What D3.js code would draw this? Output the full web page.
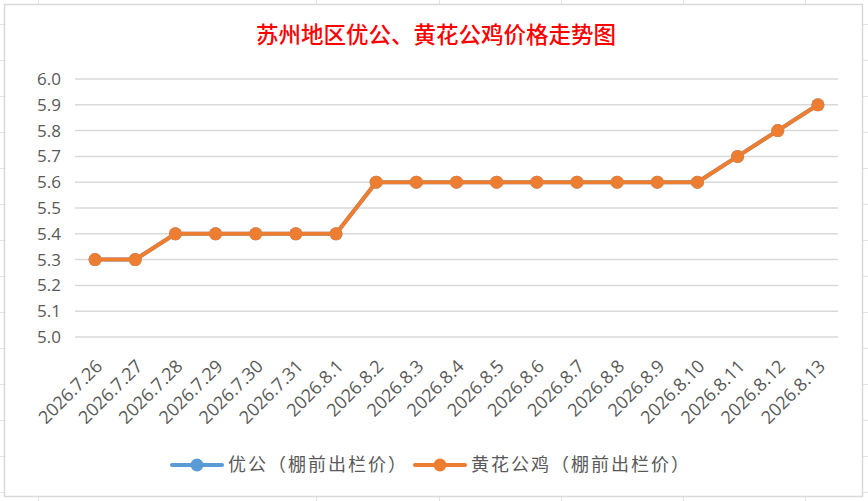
<!DOCTYPE html>
<html>
<head>
<meta charset="utf-8">
<script src="https://cdn.jsdelivr.net/npm/d3@7"></script>
<style>
  html, body { margin: 0; padding: 0; background: #fff; }
  svg { display: block; }
</style>
</head>
<body>
<svg id="chart" width="868" height="501"></svg>
<script>
// Chart data
const dates = ['2026.7.26', '2026.7.27', '2026.7.28', '2026.7.29', '2026.7.30', '2026.7.31',
  '2026.8.1', '2026.8.2', '2026.8.3', '2026.8.4', '2026.8.5', '2026.8.6', '2026.8.7',
  '2026.8.8', '2026.8.9', '2026.8.10', '2026.8.11', '2026.8.12', '2026.8.13'];
const youGong = [5.3, 5.3, 5.4, 5.4, 5.4, 5.4, 5.4, 5.6, 5.6, 5.6, 5.6, 5.6, 5.6, 5.6, 5.6, 5.6, 5.7, 5.8, 5.9];
const huangHua = [5.3, 5.3, 5.4, 5.4, 5.4, 5.4, 5.4, 5.6, 5.6, 5.6, 5.6, 5.6, 5.6, 5.6, 5.6, 5.6, 5.7, 5.8, 5.9];
const yTicks = [5.0, 5.1, 5.2, 5.3, 5.4, 5.5, 5.6, 5.7, 5.8, 5.9, 6.0];
const seriesNames = ['优公（棚前出栏价）', '黄花公鸡（棚前出栏价）'];
const title = '苏州地区优公、黄花公鸡价格走势图';

const series = [
  { name: seriesNames[0], values: youGong, color: '#5B9BD5' },
  { name: seriesNames[1], values: huangHua, color: '#ED7D31' }
];

const svg = d3.select('#chart');

// spreadsheet cells behind the chart
const sheet = svg.append('g').attr('stroke', '#e3e3e3').attr('stroke-width', 1);
[38.5, 316.5, 439.5, 561.5, 683.5, 805.5].forEach(x => {
  sheet.append('line').attr('x1', x).attr('x2', x).attr('y1', 0).attr('y2', 501);
});
d3.range(24.5, 501, 36).forEach(y => {
  sheet.append('line').attr('x1', 0).attr('x2', 868).attr('y1', y).attr('y2', y);
});

// chart area
svg.append('rect')
  .attr('x', 4.5).attr('y', 4.5)
  .attr('width', 858).attr('height', 492)
  .attr('fill', '#fff')
  .attr('stroke', '#d9d9d9')
  .attr('stroke-width', 1.5);

const margin = { top: 79, left: 75 };
const plotW = 838 - margin.left;
const plotH = 337 - margin.top;

const g = svg.append('g').attr('transform', `translate(${margin.left},${margin.top})`);

const x = d3.scaleBand().domain(dates).range([0, plotW]);
const y = d3.scaleLinear().domain([5.0, 6.0]).range([plotH, 0]);

// gridlines
g.append('g')
  .selectAll('line')
  .data(yTicks)
  .join('line')
  .attr('x1', 0).attr('x2', plotW)
  .attr('y1', d => y(d)).attr('y2', d => y(d))
  .attr('stroke', '#d9d9d9')
  .attr('stroke-width', 1.5);

// y axis labels
const yAxis = g.append('g')
  .call(d3.axisLeft(y).tickValues(yTicks).tickFormat(d3.format('.1f')).tickSize(0).tickPadding(14));
yAxis.select('.domain').remove();
yAxis.selectAll('text')
  .attr('fill', '#595959')
  .style('font-family', '"Open Sans", "Noto Sans", sans-serif')
  .style('font-size', '17px');

// x axis labels
const xAxis = g.append('g')
  .attr('transform', `translate(0,${plotH})`)
  .call(d3.axisBottom(x).tickSize(0).tickPadding(0));
xAxis.select('.domain').remove();
xAxis.selectAll('text')
  .attr('fill', '#595959')
  .style('font-family', '"Open Sans", "Noto Sans", sans-serif')
  .style('font-size', '18px')
  .attr('text-anchor', 'end')
  .attr('dy', '0.35em')
  .attr('transform', 'translate(4,26) rotate(-45)');

// lines and markers
const line = d3.line()
  .x((d, i) => x(dates[i]) + x.bandwidth() / 2)
  .y(d => y(d));

series.forEach(s => {
  g.append('path')
    .datum(s.values)
    .attr('d', line)
    .attr('fill', 'none')
    .attr('stroke', s.color)
    .attr('stroke-width', 4)
    .attr('stroke-linejoin', 'round');

  g.append('g')
    .selectAll('circle')
    .data(s.values)
    .join('circle')
    .attr('cx', (d, i) => x(dates[i]) + x.bandwidth() / 2)
    .attr('cy', d => y(d))
    .attr('r', 6.5)
    .attr('fill', s.color);
});

// title
svg.append('text')
  .attr('x', 436)
  .attr('y', 43)
  .attr('text-anchor', 'middle')
  .attr('fill', '#FF0000')
  .style('font-family', '"Noto Sans CJK SC", sans-serif')
  .style('font-size', '22.5px')
  .style('font-weight', '500')
  .text(title);

// legend
const legendX = [172, 415];
series.forEach((s, i) => {
  const lg = svg.append('g').attr('transform', `translate(${legendX[i]},465)`);
  lg.append('line')
    .attr('x1', 0).attr('x2', 50)
    .attr('stroke', s.color)
    .attr('stroke-width', 4)
    .attr('stroke-linecap', 'round');
  lg.append('circle').attr('cx', 25).attr('r', 6.5).attr('fill', s.color);
  lg.append('text')
    .attr('x', 56)
    .attr('dy', '0.36em')
    .attr('fill', '#595959')
    .style('font-family', '"Noto Sans CJK SC", sans-serif')
    .style('font-size', '18px')
    .style('letter-spacing', '2px')
    .text(s.name);
});
</script>
</body>
</html>
